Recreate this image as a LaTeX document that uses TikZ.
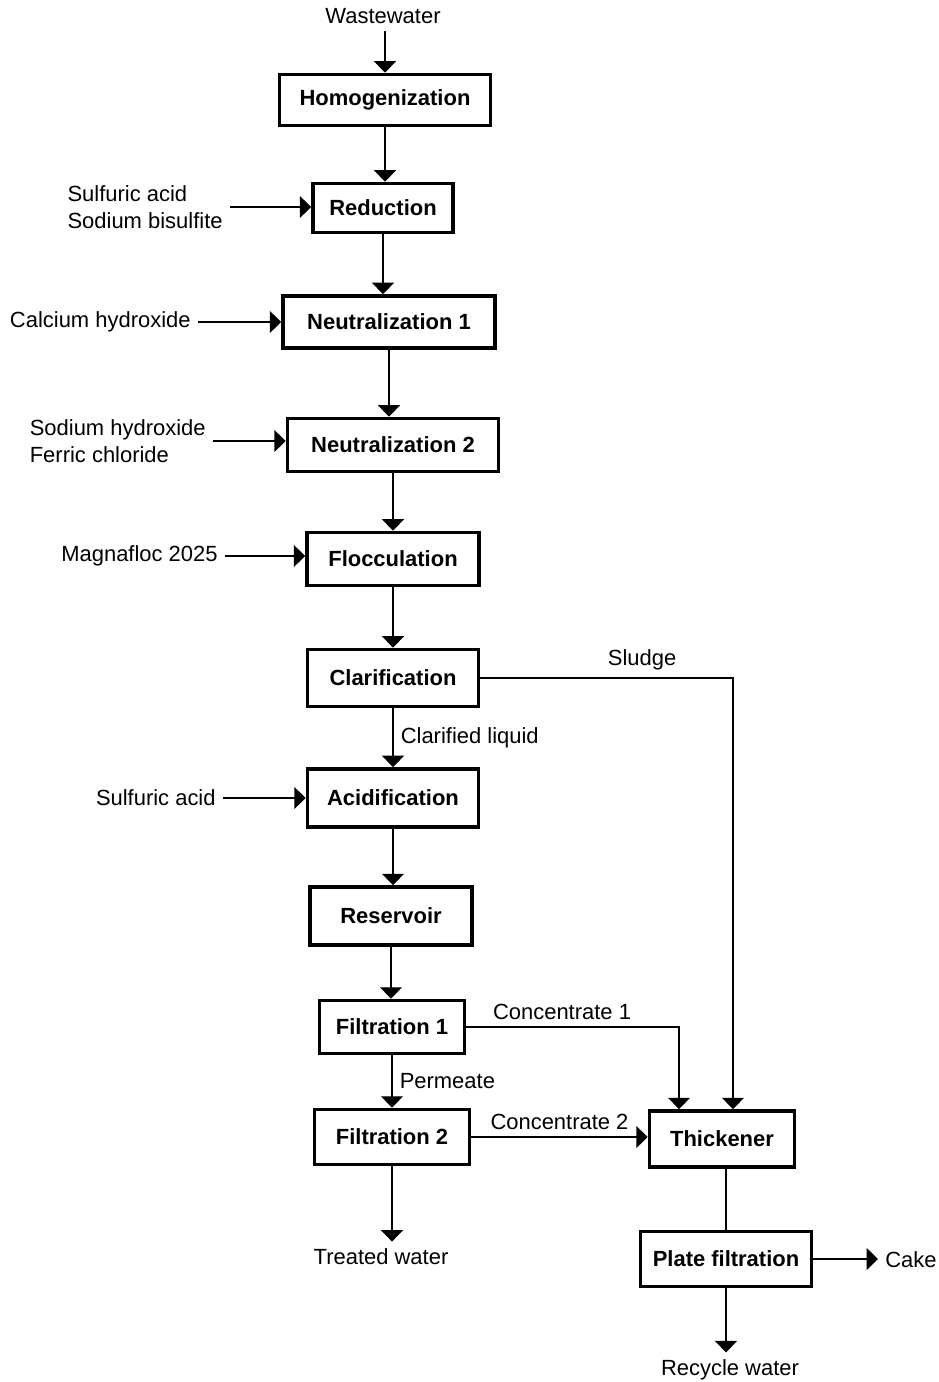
\documentclass[tikz,border=0pt]{standalone}
\usepackage{fontspec}
\setmainfont{Liberation Sans}
\usetikzlibrary{arrows.meta}

\begin{document}
\begin{tikzpicture}[x=0.02cm, y=-0.02cm,
  box/.style={draw, line width=2.1pt, inner sep=0pt, font=\fontsize{12.5}{15}\selectfont\bfseries},
  lbl/.style={font=\fontsize{12.5}{15}\selectfont, inner sep=4pt, align=left},
  flow/.style={line width=0.85pt, -{Triangle[width=12.5pt, length=6.5pt]}},
  line/.style={line width=0.85pt}]

\useasboundingbox (0, 0) rectangle (939, 1382);

\node [box, minimum width=4.22cm, minimum height=1.02cm] (hom) at (385, 100) {Homogenization};
\node [box, minimum width=2.80cm, minimum height=0.98cm] (red) at (383, 208) {Reduction};
\node [box, minimum width=4.24cm, minimum height=1.04cm] (neu1) at (389, 322) {Neutralization 1};
\node [box, minimum width=4.22cm, minimum height=1.06cm] (neu2) at (393, 445) {Neutralization 2};
\node [box, minimum width=3.44cm, minimum height=1.06cm] (flo) at (393, 559) {Flocculation};
\node [box, minimum width=3.42cm, minimum height=1.14cm] (cla) at (393, 678) {Clarification};
\node [box, minimum width=3.42cm, minimum height=1.16cm] (aci) at (393, 798) {Acidification};
\node [box, minimum width=3.24cm, minimum height=1.16cm] (res) at (391, 916) {Reservoir};
\node [box, minimum width=2.90cm, minimum height=1.06cm] (fil1) at (392, 1027) {Filtration 1};
\node [box, minimum width=3.10cm, minimum height=1.10cm] (fil2) at (392, 1137) {Filtration 2};
\node [box, minimum width=2.90cm, minimum height=1.12cm] (thk) at (722, 1139) {Thickener};
\node [box, minimum width=3.42cm, minimum height=1.10cm] (pf) at (726, 1259) {Plate filtration};

\node [lbl] (ww) at (383, 16) {Wastewater};
\node [lbl, anchor=east] (sabs) at (230, 207) {Sulfuric acid\\Sodium bisulfite};
\node [lbl, anchor=east] (ch) at (198, 322) {Calcium hydroxide};
\node [lbl, anchor=east] (shfc) at (213, 441) {Sodium hydroxide\\Ferric chloride};
\node [lbl, anchor=east] (mag) at (225, 556) {Magnafloc 2025};
\node [lbl, anchor=east] (sa) at (223, 798) {Sulfuric acid};
\node [lbl] (tw) at (381, 1257) {Treated water};
\node [lbl] (cake) at (911, 1260) {Cake};
\node [lbl] (rw) at (730, 1370) {Recycle water};

\draw [flow] (ww.south -| hom.north) -- (hom.north);
\draw [flow] (hom.south) -- (hom.south |- red.north);
\draw [flow] (red.south) -- (red.south |- neu1.north);
\draw [flow] (neu1.south) -- (neu1.south |- neu2.north);
\draw [flow] (neu2.south) -- (neu2.south |- flo.north);
\draw [flow] (flo.south) -- (flo.south |- cla.north);
\draw [flow] (cla.south) -- (cla.south |- aci.north) node [midway, right, lbl] {Clarified liquid};
\draw [flow] (aci.south) -- (aci.south |- res.north);
\draw [flow] (res.south) -- (res.south |- fil1.north);
\draw [flow] (fil1.south) -- (fil1.south |- fil2.north) node [midway, right, lbl] {Permeate};
\draw [flow] (fil2.south) -- (fil2.south |- tw.north);

\draw [flow] (sabs.east) -- (sabs.east -| red.west);
\draw [flow] (ch.east) -- (ch.east -| neu1.west);
\draw [flow] (shfc.east) -- (shfc.east -| neu2.west);
\draw [flow] (mag.east) -- (mag.east -| flo.west);
\draw [flow] (sa.east) -- (sa.east -| aci.west);

\draw [flow] (cla.east) -| ([xshift=0.22cm]thk.north) node [pos=0.32, above, lbl] {Sludge};
\draw [flow] (fil1.east) -| ([xshift=-0.86cm]thk.north) node [pos=0.225, above, lbl] {Concentrate 1};
\draw [flow] (fil2.east) -- (fil2.east -| thk.west) node [midway, above, lbl] {Concentrate 2};

\draw [line] (pf.north |- thk.south) -- (pf.north);
\draw [flow] (pf.east) -- (pf.east -| cake.west);
\draw [flow] (pf.south) -- (pf.south |- rw.north);

\end{tikzpicture}
\end{document}
